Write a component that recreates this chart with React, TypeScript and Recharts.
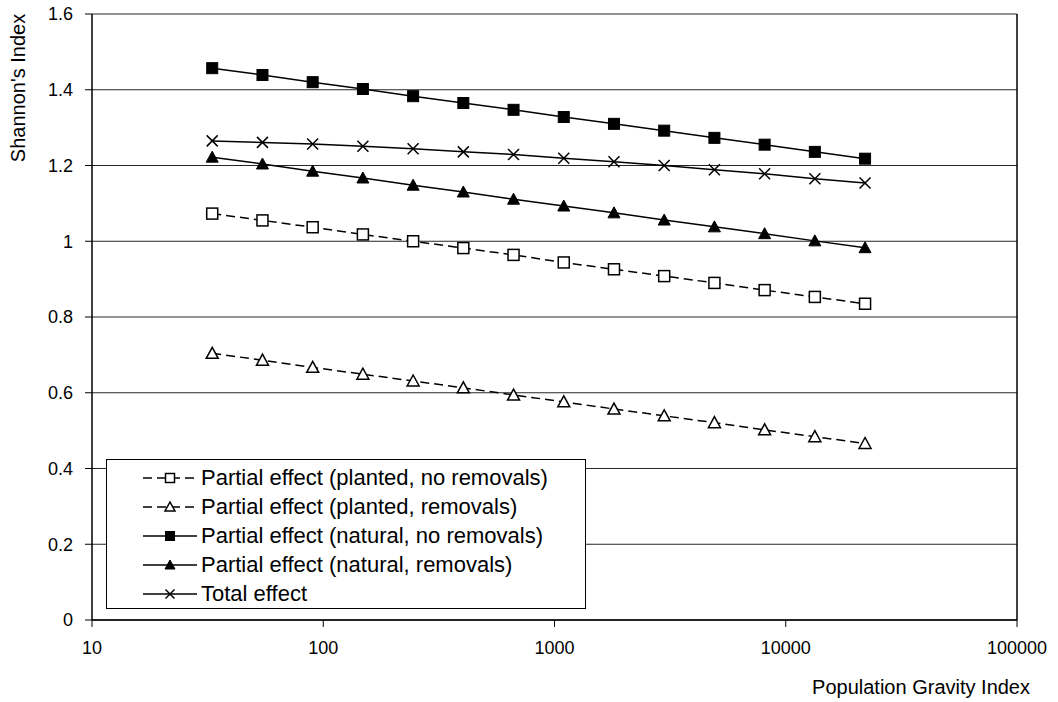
import React from 'react';
import { LineChart, Line, XAxis, YAxis, CartesianGrid, Legend, ReferenceLine } from 'recharts';

const FONT = '"Liberation Sans", Arial, Helvetica, sans-serif';

const gravityIndex = [33.1, 54.6, 90.0, 148.4, 244.7, 403.4, 665.1, 1096.6, 1808.0, 2981.0, 4914.8, 8103.1, 13359.7, 22026.5];
const plantedNoRemovals = [1.073, 1.055, 1.037, 1.018, 1.0, 0.982, 0.964, 0.944, 0.926, 0.908, 0.89, 0.871, 0.853, 0.835];
const plantedRemovals = [0.704, 0.686, 0.667, 0.649, 0.631, 0.613, 0.594, 0.576, 0.557, 0.539, 0.521, 0.502, 0.484, 0.466];
const naturalNoRemovals = [1.457, 1.439, 1.42, 1.402, 1.383, 1.365, 1.347, 1.328, 1.31, 1.292, 1.273, 1.255, 1.236, 1.218];
const naturalRemovals = [1.222, 1.204, 1.185, 1.167, 1.148, 1.13, 1.111, 1.093, 1.075, 1.056, 1.038, 1.02, 1.001, 0.983];
const totalEffect = [1.265, 1.261, 1.257, 1.251, 1.244, 1.236, 1.229, 1.219, 1.21, 1.2, 1.189, 1.178, 1.165, 1.154];

const xTicks = [10, 100, 1000, 10000, 100000];
const yTicks = [0, 0.2, 0.4, 0.6, 0.8, 1, 1.2, 1.4, 1.6];

const seriesNames = {
  pnr: 'Partial effect (planted, no removals)',
  pr: 'Partial effect (planted, removals)',
  nnr: 'Partial effect (natural, no removals)',
  nr: 'Partial effect (natural, removals)',
  tot: 'Total effect',
};

const data = gravityIndex.map((x, i) => ({
  x,
  pnr: plantedNoRemovals[i],
  pr: plantedRemovals[i],
  nnr: naturalNoRemovals[i],
  nr: naturalRemovals[i],
  tot: totalEffect[i],
}));

type MarkerKind = 'openSquare' | 'openTriangle' | 'square' | 'triangle' | 'cross';

const Marker = ({ kind, cx, cy, s }: { kind: MarkerKind; cx: number; cy: number; s: number }) => {
  const h = s / 2;
  switch (kind) {
    case 'openSquare':
      return <rect x={cx - h} y={cy - h} width={s} height={s} fill="#fff" stroke="#000" strokeWidth={1.5} />;
    case 'square':
      return <rect x={cx - h} y={cy - h} width={s} height={s} fill="#000" stroke="#000" strokeWidth={1} />;
    case 'openTriangle':
      return (
        <polygon
          points={`${cx},${cy - h - 0.5} ${cx - h - 0.5},${cy + h - 0.5} ${cx + h + 0.5},${cy + h - 0.5}`}
          fill="#fff"
          stroke="#000"
          strokeWidth={1.5}
        />
      );
    case 'triangle':
      return (
        <polygon
          points={`${cx},${cy - h - 0.5} ${cx - h - 0.5},${cy + h - 0.5} ${cx + h + 0.5},${cy + h - 0.5}`}
          fill="#000"
          stroke="#000"
          strokeWidth={1}
        />
      );
    default:
      return (
        <g stroke="#000" strokeWidth={1.5}>
          <line x1={cx - h} y1={cy - h} x2={cx + h} y2={cy + h} />
          <line x1={cx - h} y1={cy + h} x2={cx + h} y2={cy - h} />
        </g>
      );
  }
};

const makeDot = (kind: MarkerKind) => (props: any) => {
  const { cx, cy, index } = props;
  if (cx == null || cy == null) return <g key={index} />;
  return (
    <g key={index}>
      <Marker kind={kind} cx={cx} cy={cy} s={11} />
    </g>
  );
};

const legendItems: { key: keyof typeof seriesNames; kind: MarkerKind; dashed: boolean }[] = [
  { key: 'pnr', kind: 'openSquare', dashed: true },
  { key: 'pr', kind: 'openTriangle', dashed: true },
  { key: 'nnr', kind: 'square', dashed: false },
  { key: 'nr', kind: 'triangle', dashed: false },
  { key: 'tot', kind: 'cross', dashed: false },
];

const LegendBox = () => (
  <div
    style={{
      border: '1px solid #000',
      background: '#fff',
      boxSizing: 'border-box',
      width: 480,
      height: 150,
      paddingTop: 3,
      fontFamily: FONT,
      fontSize: 22,
      color: '#000',
    }}
  >
    {legendItems.map((item) => (
      <div key={item.key} style={{ display: 'flex', alignItems: 'center', height: 29 }}>
        <svg width={54} height={20} style={{ marginLeft: 36, marginRight: 4, flex: 'none' }}>
          <line
            x1={0}
            y1={10}
            x2={54}
            y2={10}
            stroke="#000"
            strokeWidth={1.5}
            strokeDasharray={item.dashed ? '9 5' : undefined}
          />
          <Marker kind={item.kind} cx={27} cy={10} s={9} />
        </svg>
        <span style={{ lineHeight: '29px', whiteSpace: 'nowrap' }}>{seriesNames[item.key]}</span>
      </div>
    ))}
  </div>
);

const tickStyle = { fill: '#000', fontSize: 18, fontFamily: FONT };

export default function App() {
  return (
    <div style={{ position: 'absolute', left: 0, top: 0, background: '#fff' }}>
      <LineChart width={1058} height={702} data={data} margin={{ top: 14, right: 41, bottom: 0, left: 0 }}>
        <CartesianGrid horizontal vertical={false} stroke="#000" strokeWidth={1} strokeOpacity={0.85} />
        <XAxis
          dataKey="x"
          type="number"
          scale="log"
          domain={[10, 100000]}
          ticks={xTicks}
          allowDataOverflow
          height={82}
          tickSize={7}
          tickMargin={14}
          tick={tickStyle}
          tickFormatter={(v: number) => String(v)}
          axisLine={{ stroke: '#000', strokeWidth: 1.5 }}
          tickLine={{ stroke: '#000', strokeWidth: 1 }}
          label={() => (
            <text x={1030} y={694} textAnchor="end" fontSize={20} fontFamily={FONT} fill="#000">
              Population Gravity Index
            </text>
          )}
        />
        <YAxis
          type="number"
          domain={[0, 1.6]}
          ticks={yTicks}
          width={92}
          tickSize={7}
          tickMargin={12}
          tick={tickStyle}
          axisLine={{ stroke: '#000', strokeWidth: 1.5 }}
          tickLine={{ stroke: '#000', strokeWidth: 1 }}
          label={() => (
            <text
              x={25}
              y={88}
              textAnchor="middle"
              fontSize={20}
              fontFamily={FONT}
              fill="#000"
              transform="rotate(-90, 25, 88)"
            >
              Shannon's Index
            </text>
          )}
        />
        <ReferenceLine x={100000} stroke="#000" strokeWidth={1.5} />
        <Legend
          layout="vertical"
          align="center"
          verticalAlign="middle"
          width={480}
          height={150}
          wrapperStyle={{ left: 106, top: 459, width: 480, height: 150 }}
          content={() => <LegendBox />}
        />
        <Line
          dataKey="pr"
          name={seriesNames.pr}
          stroke="#000"
          strokeWidth={1.5}
          strokeDasharray="9 5"
          dot={makeDot('openTriangle')}
          activeDot={false}
          isAnimationActive={false}
        />
        <Line
          dataKey="pnr"
          name={seriesNames.pnr}
          stroke="#000"
          strokeWidth={1.5}
          strokeDasharray="9 5"
          dot={makeDot('openSquare')}
          activeDot={false}
          isAnimationActive={false}
        />
        <Line
          dataKey="nr"
          name={seriesNames.nr}
          stroke="#000"
          strokeWidth={1.5}
          dot={makeDot('triangle')}
          activeDot={false}
          isAnimationActive={false}
        />
        <Line
          dataKey="tot"
          name={seriesNames.tot}
          stroke="#000"
          strokeWidth={1.5}
          dot={makeDot('cross')}
          activeDot={false}
          isAnimationActive={false}
        />
        <Line
          dataKey="nnr"
          name={seriesNames.nnr}
          stroke="#000"
          strokeWidth={1.5}
          dot={makeDot('square')}
          activeDot={false}
          isAnimationActive={false}
        />
      </LineChart>
    </div>
  );
}
